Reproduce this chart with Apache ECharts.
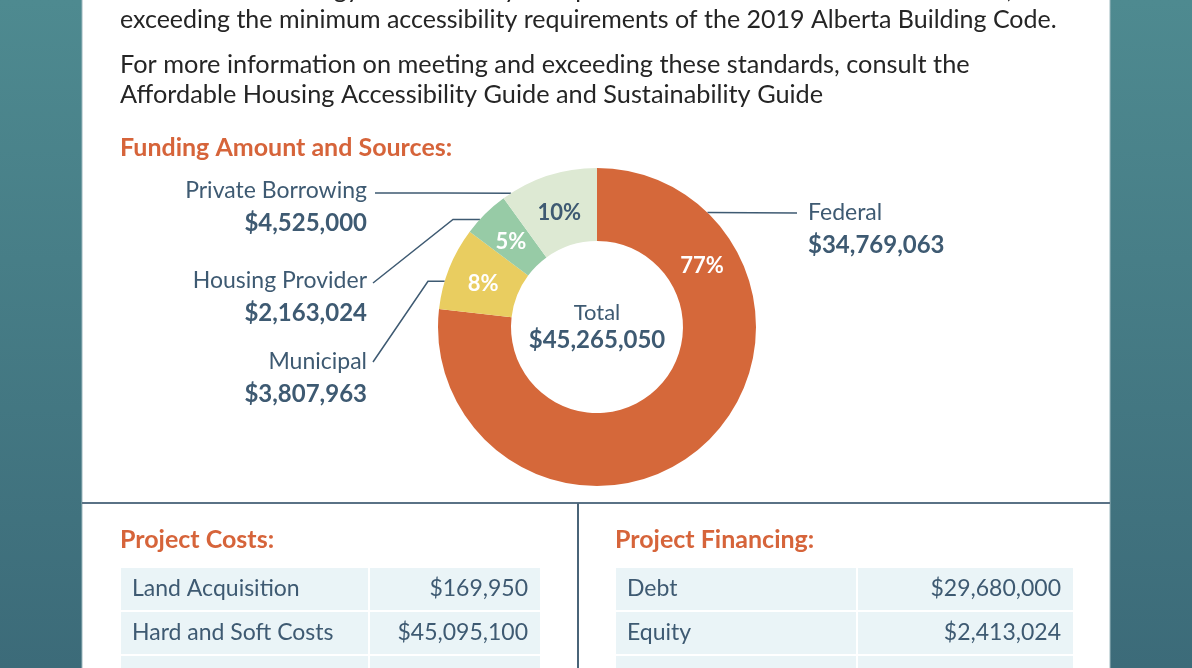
<!DOCTYPE html>
<html>
<head>
<meta charset="utf-8">
<title>Funding Amount and Sources</title>
<script src="https://cdn.jsdelivr.net/npm/echarts@6/dist/echarts.min.js"></script>
<style>
  html, body { margin: 0; padding: 0; }
  #chart { width: 1192px; height: 668px; }
</style>
</head>
<body>
<div id="chart"></div>
<script>
// funding sources, clockwise from 12 o'clock
const sourceNames = ['Federal', 'Municipal', 'Housing Provider', 'Private Borrowing']
const sourceAmounts = [34769063, 3807963, 2163024, 4525000]

// tables
const costItems = ['Land Acquisition', 'Hard and Soft Costs', '']
const costAmounts = [169950, 45095100, null]
const financingItems = ['Debt', 'Equity', '']
const financingAmounts = [29680000, 2413024, null]

// paragraph text above the chart
const introLines = [
    '2017 National Energy Code. Twenty-two per cent of the units will be barrier-free,',
    'exceeding the minimum accessibility requirements of the 2019 Alberta Building Code.'
]
const moreInfoLines = [
    'For more information on meeting and exceeding these standards, consult the',
    'Affordable Housing Accessibility Guide and Sustainability Guide'
]

// ---- styling / layout ----
const FONT = 'Lato, "Noto Sans", sans-serif'
const SLATE = '#3e5a72'
const ORANGE = '#d6643a'
const colors = ['#d5683a', '#e9cd60', '#97cba6', '#dde9d3']
const PIE = { cx: 597, cy: 327, r0: 86, r: 159 }

// where the outside labels sit and how the leader lines bend
const leaders = [
    { angle: 44, x: 808, y: 229, align: 'left', elbowX: null, end: [797, 213] },
    { angle: 286.7, x: 367, y: 378, align: 'right', elbowX: 428, end: [373, 362] },
    { angle: 312.6, x: 367, y: 297, align: 'right', elbowX: 453, end: [373, 283] },
    { angle: 327.3, x: 367, y: 207, align: 'right', elbowX: null, end: [375, 193] }
]

const money = v => '$' + echarts.format.addCommas(v)
const total = sourceAmounts.reduce((a, b) => a + b, 0)

function arcPoint (deg, r) {
    const a = deg * Math.PI / 180
    return [PIE.cx + r * Math.sin(a), PIE.cy - r * Math.cos(a)]
}

// middle angle of every slice, degrees clockwise from 12 o'clock
const midAngles = []
let acc = 0
sourceAmounts.forEach(v => {
    midAngles.push((acc + v / 2) / total * 360)
    acc += v
})

const pieData = sourceNames.map((n, i) => ({
    name: n,
    value: sourceAmounts[i],
    itemStyle: { color: colors[i] },
    label: { color: i === 3 ? SLATE : '#fff' }
}))

// graphic pieces: background, panel, text, tables
const graphics = []
graphics.push({
    type: 'rect', z: -20,
    shape: { x: 0, y: 0, width: 1192, height: 668 },
    style: { fill: new echarts.graphic.LinearGradient(0, 0, 0, 1, [
        { offset: 0, color: '#4e8a90' }, { offset: 1, color: '#3c6b79' }
    ]) }
})
graphics.push({
    type: 'rect', z: -19,
    shape: { x: 82, y: -2, width: 1028, height: 672 },
    style: { fill: '#fff', stroke: '#9db8be', lineWidth: 1 }
})

function addText (text, x, y, size, color, weight, align) {
    graphics.push({
        type: 'text', z: 5,
        style: {
            text: text, x: x, y: y,
            fontSize: size, fontFamily: FONT, fontWeight: weight || 'normal',
            fill: color, align: align || 'left', verticalAlign: 'middle'
        }
    })
}

introLines.forEach((t, i) => addText(t, 120, -10 + i * 30, 25, '#252525'))
moreInfoLines.forEach((t, i) => addText(t, 120, 65 + i * 30, 25.3, '#252525'))
addText('Funding Amount and Sources:', 120, 148, 25, ORANGE, 'bold')
addText('Project Costs:', 120, 540, 25, ORANGE, 'bold')
addText('Project Financing:', 615, 540, 25, ORANGE, 'bold')

// centre of the donut
addText('Total', PIE.cx, 313, 22, SLATE, 'normal', 'center')
addText(money(total), PIE.cx, 340, 24, SLATE, 'bold', 'center')

// dividers
graphics.push({ type: 'line', z: 4, shape: { x1: 82, y1: 503, x2: 1110, y2: 503 },
    style: { stroke: '#5a7286', lineWidth: 2 } })
graphics.push({ type: 'line', z: 4, shape: { x1: 578, y1: 503, x2: 578, y2: 670 },
    style: { stroke: '#4a6478', lineWidth: 2 } })

function addTable (items, amounts, x0, split, x1) {
    items.forEach((item, i) => {
        const top = 568 + i * 44
        graphics.push({ type: 'rect', z: 1, shape: { x: x0, y: top, width: split - x0, height: 42 },
            style: { fill: '#eaf4f7' } })
        graphics.push({ type: 'rect', z: 1, shape: { x: split + 2, y: top, width: x1 - split - 2, height: 42 },
            style: { fill: '#eaf4f7' } })
        if (item) addText(item, x0 + 11, top + 21, 23, SLATE)
        if (amounts[i] != null) addText(money(amounts[i]), x1 - 12, top + 21, 23, SLATE, 'normal', 'right')
    })
}
addTable(costItems, costAmounts, 121, 368, 540)
addTable(financingItems, financingAmounts, 616, 856, 1073)

const myChart = echarts.init(document.getElementById('chart'))

const option = {
    animation: false,
    graphic: graphics,
    series: [
        {
            // coloured ring with the percentages
            type: 'pie',
            center: [PIE.cx, PIE.cy],
            radius: [PIE.r0, PIE.r],
            startAngle: 90,
            clockwise: true,
            avoidLabelOverlap: false,
            percentPrecision: 0,
            silent: true,
            label: {
                position: 'inside',
                formatter: '{d}%',
                fontFamily: FONT,
                fontWeight: 'bold',
                fontSize: 22,
                align: 'center',
                verticalAlign: 'middle'
            },
            labelLine: { show: false },
            labelLayout: function (p) {
                // the big slice carries its label near the top right
                const ang = p.dataIndex === 0 ? 59 : midAngles[p.dataIndex]
                const pt = arcPoint(ang, (PIE.r0 + PIE.r) / 2)
                return { x: pt[0], y: pt[1] + 2, align: 'center', verticalAlign: 'middle' }
            },
            data: pieData
        },
        {
            // transparent copy of the ring, only for the outside labels
            type: 'pie',
            center: [PIE.cx, PIE.cy],
            radius: [PIE.r0, PIE.r],
            startAngle: 90,
            clockwise: true,
            avoidLabelOverlap: false,
            silent: true,
            itemStyle: { color: 'rgba(0,0,0,0)' },
            label: {
                position: 'outside',
                formatter: p => '{n|' + p.name + '}\n{v|' + money(p.value) + '}',
                rich: {
                    n: { fontFamily: FONT, fontSize: 23, color: SLATE, lineHeight: 32 },
                    v: { fontFamily: FONT, fontSize: 24, fontWeight: 'bold', color: SLATE, lineHeight: 32 }
                }
            },
            labelLine: { show: true, lineStyle: { color: SLATE, width: 1.5 } },
            labelLayout: function (p) {
                const L = leaders[p.dataIndex]
                const s = arcPoint(L.angle, PIE.r)
                const mid = L.elbowX != null ? [L.elbowX, s[1]] : [(s[0] + L.end[0]) / 2, (s[1] + L.end[1]) / 2]
                return {
                    x: L.x, y: L.y, align: L.align, verticalAlign: 'middle',
                    labelLinePoints: [s, mid, L.end]
                }
            },
            data: sourceNames.map((n, i) => ({ name: n, value: sourceAmounts[i] }))
        }
    ]
}

myChart.setOption(option)
</script>
</body>
</html>
